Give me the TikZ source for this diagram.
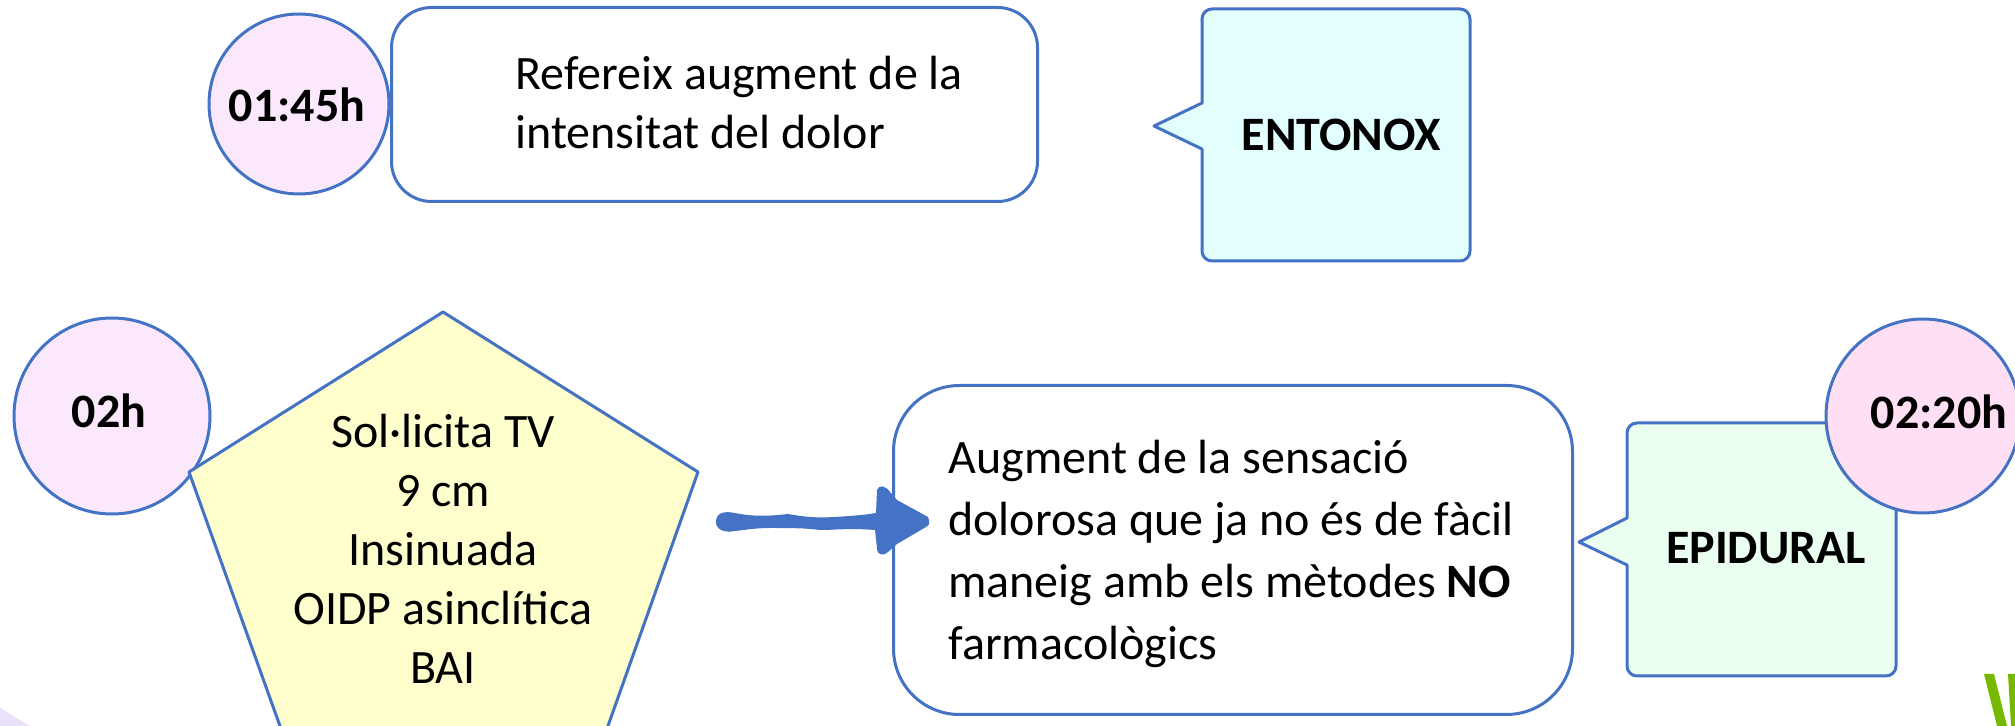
\documentclass[tikz,border=0pt]{standalone}
\usepackage{fontspec}
\setmainfont{Carlito}
\definecolor{edge}{HTML}{4472C4}
\definecolor{circA}{HTML}{FCE8FD}
\definecolor{circB}{HTML}{FFDFF3}
\definecolor{penfill}{HTML}{FEFFCC}
\definecolor{entfill}{HTML}{E2FFFE}
\definecolor{epifill}{HTML}{EAFFF0}
\definecolor{logogreen}{HTML}{76B900}
\definecolor{wm}{HTML}{EAE2FA}
\tikzset{
  x=0.5pt,y=-0.5pt,
  shapeline/.style={draw=edge,line width=1.5pt,line join=round},
  timecircle/.style={shapeline,circle,inner sep=0pt},
  txt/.style={font=\fontsize{24}{29.5}\selectfont,text=black,inner sep=0pt,align=left},
  txtwide/.style={font=\fontsize{24}{31}\selectfont,text=black,inner sep=0pt,align=left},
  mid/.style={txt,align=center},
  strong/.style={text=black,inner sep=0pt,font=\fontsize{24}{28}\selectfont\bfseries}
}
\begin{document}
\begin{tikzpicture}
\useasboundingbox (0,0) rectangle (2015,726);
\begin{scope}
\clip (0,0) rectangle (2015,726);
% watermark and logo fragments
\fill[wm] (0,708) -- (30,726) -- (0,726) -- cycle;
\fill[logogreen] (1984,674) -- (1994,674) -- (2007,726) -- (1997,726) -- cycle;
\fill[logogreen] (2008,674) -- (2015,674) -- (2015,726) -- (2011,726) -- cycle;
% round boxes
\node[shapeline,rounded corners=20pt,fill=white,minimum width=323pt,minimum height=97pt,anchor=north west] (b1) at (390,6) {};
\node[shapeline,rounded corners=33pt,fill=white,minimum width=339.5pt,minimum height=164.5pt,anchor=north west] (b2) at (892,384) {};
% callouts
\draw[shapeline,fill=entfill] (1154,126) -- (1202,103) [rounded corners=5pt] -- (1202,9) -- (1470,9) -- (1470,261) -- (1202,261) [sharp corners] -- (1202,149) -- cycle;
\draw[shapeline,fill=epifill] (1579,542) -- (1627,518) [rounded corners=5pt] -- (1627,423) -- (1896,423) -- (1896,676) -- (1627,676) [sharp corners] -- (1627,565) -- cycle;
% circles
\node[timecircle,fill=circA,minimum size=90pt] (t1) at (299,104) {};
\node[timecircle,fill=circA,minimum size=98pt] (t2) at (112,416) {};
\node[timecircle,fill=circB,minimum size=97pt] (t3) at (1923,416) {};
% pentagon
\draw[shapeline,fill=penfill] (443,312) -- (698,472) -- (603,740) -- (285,740) -- (189,472) -- cycle;
\end{scope}
\node[strong] (t1l) at (297,105) {01:45h};
\node[strong] (t2l) at (109,411) {02h};
\node[strong] (t3l) at (1939,412) {02:20h};
\node[txt,anchor=west] (l1) at (515,103) {Refereix augment de la\\intensitat del dolor};
\node[strong] (ent) at (1341,135) {ENTONOX};
\node[strong] (epi) at (1766,548) {EPIDURAL};
\node[mid] (pen) at (443,549) {Sol·licita TV\\9 cm\\Insinuada\\OIDP asinclítica\\BAI};
\node[txtwide,anchor=west] (l2) at (948,554) {Augment de la sensació\\dolorosa que ja no és de fàcil\\maneig amb els mètodes \textbf{NO}\\farmacològics};
% hand-drawn arrow
\fill[edge] (716,522) .. controls (716,512) and (725,511) .. (735,513) .. controls (755,517) and (770,516) .. (788,514) .. controls (805,517) and (815,518) .. (835,517) .. controls (850,516) and (865,515) .. (876,513) -- (877,490) .. controls (879,484) and (886,486) .. (890,492) -- (897,500) -- (928,517) .. controls (930,522) and (930,525) .. (926,527) -- (897,544) -- (888,552) .. controls (884,556) and (877,556) .. (877,548) -- (875,530) .. controls (850,528) and (835,530) .. (820,530) .. controls (805,528) and (790,528) .. (770,528) .. controls (755,528) and (745,530) .. (735,531) .. controls (725,533) and (716,530) .. (716,522) -- cycle;
\end{tikzpicture}
\end{document}
